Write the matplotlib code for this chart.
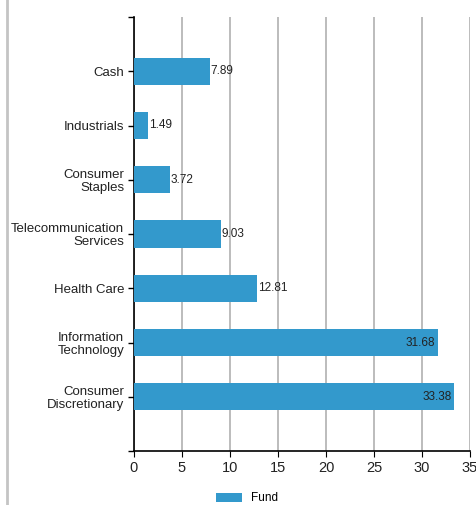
import matplotlib
matplotlib.use('Agg')
import matplotlib.pyplot as plt
from matplotlib.lines import Line2D

plt.rcParams['font.family'] = ['Liberation Sans', 'DejaVu Sans']

# sectors, bottom to top
sectors = ['Consumer\nDiscretionary', 'Information\nTechnology', 'Health Care',
           'Telecommunication\nServices', 'Consumer\nStaples', 'Industrials', 'Cash']
weights = [33.38, 31.68, 12.81, 9.03, 3.72, 1.49, 7.89]
series_name = 'Fund'
bar_color = '#3399cc'

fig = plt.figure(figsize=(4.77, 5.05), dpi=100)
ax = fig.add_axes([134/477, 1 - 451/505, (470 - 134)/477, (451 - 17)/505])

pos = list(range(len(sectors)))
ax.barh(pos, weights, height=0.5, color=bar_color, label=series_name, zorder=3)

for p, w in zip(pos, weights):
    if w > 30:
        ax.text(w - 0.3, p, f'{w:.2f}', ha='right', va='center', fontsize=8.5, color='#222222', zorder=4)
    else:
        ax.text(w + 0.1, p, f'{w:.2f}', ha='left', va='center', fontsize=8.5, color='#222222', zorder=4)

ax.set_xlim(0, 35)
ax.set_ylim(-1, 7)
ax.set_xticks(range(0, 36, 5))
ax.set_yticks(pos)
ax.set_yticklabels(sectors, fontsize=9.5, color='#222222', linespacing=1.1)
ax.set_yticks([-1, 7], minor=True)
ax.tick_params(axis='y', which='both', length=4, width=1, pad=3)
ax.tick_params(axis='x', length=4, labelsize=10.5, labelcolor='#222222', pad=3)
ax.grid(axis='x', color='#b0b0b0', linewidth=1.2, zorder=0)
for s in ['top', 'right']:
    ax.spines[s].set_visible(False)
ax.spines['left'].set_linewidth(1.2)
ax.spines['bottom'].set_linewidth(1.2)

leg = fig.legend(loc='lower left', bbox_to_anchor=(205/477, -10/505), frameon=False,
                 fontsize=8.5, handlelength=2.2, handleheight=0.8)

# gray frame edge on the left
fig.add_artist(Line2D([7/477, 7/477], [0, 1], transform=fig.transFigure,
                      color='#c4c4c4', linewidth=2))

fig.savefig('out.png', dpi=100)
